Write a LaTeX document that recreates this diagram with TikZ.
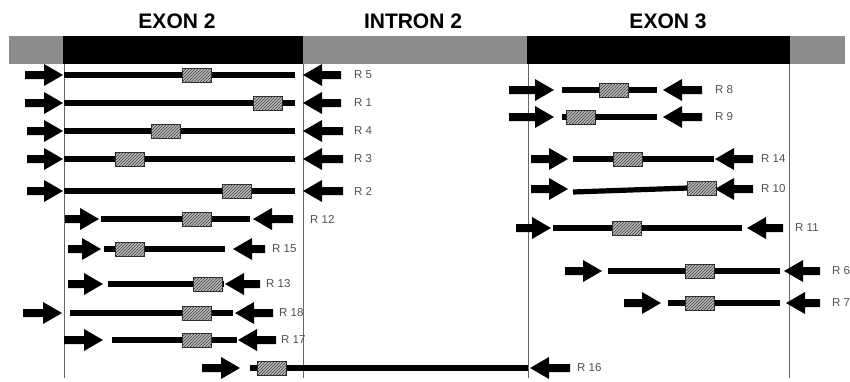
\documentclass[tikz,border=0pt]{standalone}
\usepackage{fontspec}
\setmainfont{Liberation Sans}
\usetikzlibrary{patterns}
\definecolor{bargray}{HTML}{8C8C8C}
\definecolor{labgray}{HTML}{505050}
\tikzset{
  title/.style={font=\fontsize{21}{21}\selectfont\bfseries, inner sep=0},
  rlabel/.style={font=\fontsize{11.5}{12}\selectfont, text=labgray, anchor=west, inner sep=0},
  seg/.style={line width=5.2pt, line cap=butt},
  guide/.style={draw=black!60, line width=0.8pt},
  hatchbox/.style={draw=black!85, line width=0.8pt, fill=gray!55, inner sep=0,
    minimum width=29pt, minimum height=14pt, anchor=west,
    postaction={pattern=north east lines, pattern color=black!75}}
}
\newcommand\rarr[3]{\fill (#1,#3-4) -- (#2-19,#3-4) -- (#2-19,#3-11) -- (#2,#3) -- (#2-19,#3+11) -- (#2-19,#3+4) -- (#1,#3+4) -- cycle;}
\newcommand\larr[3]{\fill (#2,#3-4) -- (#1+19,#3-4) -- (#1+19,#3-11) -- (#1,#3) -- (#1+19,#3+11) -- (#1+19,#3+4) -- (#2,#3+4) -- cycle;}
\begin{document}
\begin{tikzpicture}[x=1pt,y=-1pt]
\useasboundingbox (0,0) rectangle (850,381);
% header bar
\fill[bargray] (9,36) rectangle (63,64);
\fill[black] (63,36) rectangle (303,64);
\fill[bargray] (303,36) rectangle (527,64);
\fill[black] (527,36) rectangle (790,64);
\fill[bargray] (790,36) rectangle (845,64);
\node[title] (t1) at (177,21.5) {EXON 2};
\node[title] (t2) at (413,21.5) {INTRON 2};
\node[title] (t3) at (668,21.5) {EXON 3};
% guide lines
\coordinate (g1a) at (64,64); \coordinate (g1b) at (64,378);
\coordinate (g2a) at (303,64); \coordinate (g2b) at (303,378);
\coordinate (g3a) at (528,64); \coordinate (g3b) at (528,378);
\coordinate (g4a) at (789,64); \coordinate (g4b) at (789,378);
\draw[guide] (g1a) -- (g1b);
\draw[guide] (g2a) -- (g2b);
\draw[guide] (g3a) -- (g3b);
\draw[guide] (g4a) -- (g4b);
% rows: y / left arrow start / left tip / line start / line end / box x / right tip / right end / label x / label
\foreach \y/\la/\lt/\ls/\le/\bx/\rt/\re/\lx/\lab [count=\i] in {
  75/25/63/64/295/182/303/341/354/R 5,
  103/25/63/64/295/253/303/341/354/R 1,
  131/27/63/64/295/151/303/343/354/R 4,
  159/27/63/64/295/115/303/343/354/R 3,
  191/27/63/64/295/222/303/343/354/R 2,
  219/65/99/101/250/182/253/293/310/R 12,
  249/68/101/104/225/115/233/265/272/R 15,
  284/68/103/108/224/193/225/260/266/R 13,
  313/23/62/70/233/182/235/273/279/R 18,
  340/64/103/112/237/182/238/276/281/R 17,
  368/202/240/250/528/257/530/570/577/R 16,
  90/509/554/562/657/599/663/702/715/R 8,
  117/509/554/562/657/566/663/702/715/R 9,
  159/531/568/573/714/613/715/753/761/R 14,
  228/516/551/553/742/612/747/783/795/R 11,
  271/565/602/608/780/685/784/820/832/R 6,
  303/624/661/668/780/685/786/820/832/R 7}
{
  \rarr{\la}{\lt}{\y}
  \larr{\rt}{\re}{\y}
  \draw[seg] (\ls,\y) -- (\le,\y);
  \node[hatchbox] (box\i) at (\bx,\y) {};
  \node[rlabel] (lab\i) at (\lx,\y) {\lab};
}
% R10 (slightly slanted fragment)
\rarr{531}{568}{189}
\larr{715}{753}{189}
\draw[seg] (573,192) -- (688,188);
\node[hatchbox] (box10) at (687,188.5) {};
\node[rlabel] (lab10) at (761,189) {R 10};
\end{tikzpicture}
\end{document}
